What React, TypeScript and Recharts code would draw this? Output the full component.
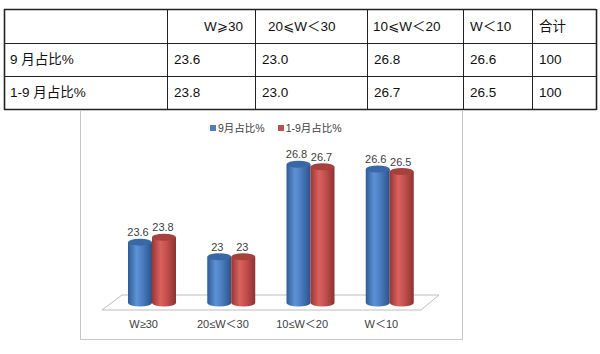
import React from 'react';
import { BarChart, Bar, XAxis, YAxis, LabelList } from 'recharts';

// chart categories and the two share series (percent)
const categories = ['W≥30', '20≤W＜30', '10≤W＜20', 'W＜10'];
const septemberShare = [23.6, 23.0, 26.8, 26.6];
const yearToDateShare = [23.8, 23.0, 26.7, 26.5];
const seriesNames = ['9月占比%', '1-9月占比%'];

// table above the chart
const tableHeaders = ['W⩾30', '20⩽W＜30', '10⩽W＜20', 'W＜10', '合计'];
const rowLabels = ['9 月占比%', '1-9 月占比%'];
const rowTotals = [100, 100];

const data = categories.map((name, i) => ({
  name,
  sep: septemberShare[i],
  ytd: yearToDateShare[i],
}));

const FONT = "'Liberation Sans', 'Noto Sans CJK SC', 'DejaVu Sans', sans-serif";

const CHART_W = 383;
const CHART_H = 230;
const MARGIN = { top: 25, right: 34, bottom: 7, left: 32 };
const AXIS_H = 30;

const colX = [4, 167, 255, 367, 463, 532, 596];
const rowY = [9, 43, 76, 109];
const headerPad = [37, 13, 6, 7, 7];

function Table() {
  const rows = [
    septemberShare.map((v) => v.toFixed(1)).concat(String(rowTotals[0])),
    yearToDateShare.map((v) => v.toFixed(1)).concat(String(rowTotals[1])),
  ];
  const mid = (r: number) => (rowY[r] + rowY[r + 1]) / 2;
  return (
    <svg width={600} height={112} style={{ position: 'absolute', left: 0, top: 0 }}>
      {rowY.map((y, i) => (
        <line key={`h${i}`} x1={colX[0]} x2={colX[6]} y1={y + 0.5} y2={y + 0.5} stroke="#222" strokeWidth={i === 0 || i === 3 ? 1.6 : 1} />
      ))}
      {colX.map((x, i) => (
        <line key={`v${i}`} x1={x + 0.5} x2={x + 0.5} y1={rowY[0]} y2={rowY[3] + 1} stroke="#222" strokeWidth={i === 0 || i === 6 ? 1.6 : 1} />
      ))}
      <g fontFamily={FONT} fontSize={13.5} fill="#111">
        {tableHeaders.map((h, i) => (
          <text key={`th${i}`} x={colX[i + 1] + headerPad[i]} y={mid(0)} dy="0.36em">{h}</text>
        ))}
        {rowLabels.map((l, r) => (
          <g key={`r${r}`}>
            <text x={colX[0] + 6} y={mid(r + 1)} dy="0.36em">{l}</text>
            {rows[r].map((v, c) => (
              <text key={c} x={colX[c + 1] + 7} y={mid(r + 1)} dy="0.36em">{v}</text>
            ))}
          </g>
        ))}
      </g>
    </svg>
  );
}

function Cylinder(props: any) {
  const { x, y, width, height, gradId, topColor } = props;
  if (width == null || height == null) return null;
  const rx = width / 2;
  const ry = 3.5;
  const bottom = y + height;
  const body = `M${x},${y} L${x},${bottom} A${rx},${ry} 0 0 0 ${x + width},${bottom} L${x + width},${y} Z`;
  return (
    <g>
      <path d={body} fill={`url(#${gradId})`} />
      <ellipse cx={x + rx} cy={y} rx={rx} ry={ry} fill={topColor} />
    </g>
  );
}

function CategoryTick(props: any) {
  const { x, y, payload } = props;
  return (
    <text x={x - 8} y={y} dy={17} textAnchor="middle" fontSize={11} fill="#404040" fontFamily={FONT}>
      {payload.value}
    </text>
  );
}

function Floor() {
  const left = MARGIN.left;
  const right = CHART_W - MARGIN.right;
  const base = CHART_H - MARGIN.bottom - AXIS_H;
  const pts = [
    [left - 10, base + 7],
    [right - 8, base + 7],
    [right + 10, base - 8],
    [left + 10, base - 8],
  ];
  return (
    <svg width={CHART_W} height={CHART_H} style={{ position: 'absolute', left: 0, top: 0 }}>
      <polygon points={pts.map((p) => p.join(',')).join(' ')} fill="#fff" stroke="#bdbdbd" strokeWidth={1} />
    </svg>
  );
}

function Legend() {
  const colors = ['#4a7ebf', '#c0504d'];
  return (
    <div style={{ position: 'absolute', left: 129, top: 10, display: 'flex', fontFamily: FONT, fontSize: 10.5, color: '#404040' }}>
      {seriesNames.map((n, i) => (
        <div key={n} style={{ display: 'flex', alignItems: 'center', marginRight: 13 }}>
          <span style={{ width: 6, height: 6, background: colors[i], marginRight: 2, display: 'inline-block' }} />
          <span>{n}</span>
        </div>
      ))}
    </div>
  );
}

export default function App() {
  return (
    <div style={{ position: 'absolute', left: 0, top: 0, width: 600, height: 354, background: '#fff' }}>
      <Table />
      <div style={{ position: 'absolute', left: 80, top: 110, width: CHART_W, height: CHART_H, boxSizing: 'border-box', border: '1px solid #c8c8c8', borderTop: 'none' }}>
        <div style={{ position: 'absolute', left: -1, top: 0 }}>
          <Floor />
        </div>
        <div style={{ position: 'absolute', left: -1, top: 0 }}>
          <BarChart width={CHART_W} height={CHART_H} data={data} margin={MARGIN} barGap={0} barCategoryGap={16}>
            <defs>
              <linearGradient id="blueBody" x1="0" y1="0" x2="1" y2="0">
                <stop offset="0%" stopColor="#2f5b96" />
                <stop offset="35%" stopColor="#5d92d6" />
                <stop offset="60%" stopColor="#4a7ebf" />
                <stop offset="100%" stopColor="#2d5288" />
              </linearGradient>
              <linearGradient id="redBody" x1="0" y1="0" x2="1" y2="0">
                <stop offset="0%" stopColor="#993634" />
                <stop offset="35%" stopColor="#d9625f" />
                <stop offset="60%" stopColor="#c4514e" />
                <stop offset="100%" stopColor="#8e3230" />
              </linearGradient>
            </defs>
            <XAxis dataKey="name" axisLine={false} tickLine={false} height={AXIS_H} tick={<CategoryTick />} interval={0} />
            <YAxis hide domain={[21.1, 28]} />
            <Bar dataKey="sep" name={seriesNames[0]} isAnimationActive={false}
              shape={(p: any) => <Cylinder {...p} gradId="blueBody" topColor="#3a68a6" />}>
              <LabelList dataKey="sep" position="top" offset={6} dx={-2} fontSize={11} fill="#404040" fontFamily={FONT} />
            </Bar>
            <Bar dataKey="ytd" name={seriesNames[1]} isAnimationActive={false}
              shape={(p: any) => <Cylinder {...p} gradId="redBody" topColor="#a8403d" />}>
              <LabelList dataKey="ytd" position="top" offset={6} dx={-1} fontSize={11} fill="#404040" fontFamily={FONT} />
            </Bar>
          </BarChart>
        </div>
        <Legend />
      </div>
    </div>
  );
}
